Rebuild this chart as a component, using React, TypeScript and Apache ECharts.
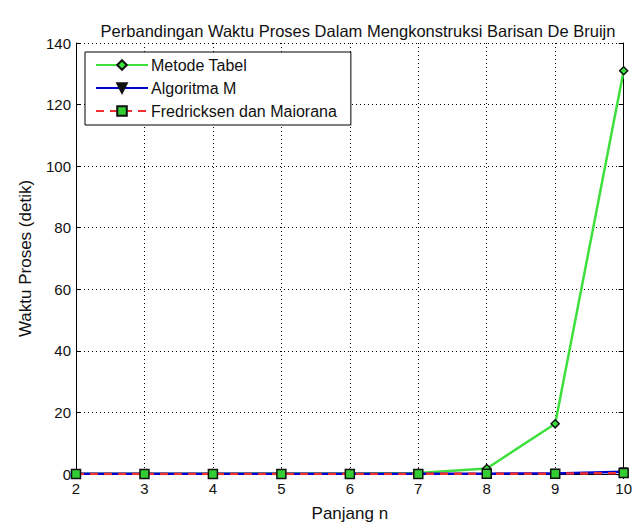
import React, { useEffect, useRef } from "react";
import * as echarts from "echarts";

const nValues = [2, 3, 4, 5, 6, 7, 8, 9, 10];
const metodeTabel = [0.1, 0.1, 0.1, 0.2, 0.2, 0.3, 1.8, 16.3, 131];
const algoritmaM = [0.05, 0.05, 0.05, 0.05, 0.05, 0.05, 0.1, 0.2, 0.7];
const fredricksen = [0.02, 0.02, 0.02, 0.03, 0.03, 0.04, 0.05, 0.1, 0.3];
const seriesNames = ["Metode Tabel", "Algoritma M", "Fredricksen dan Maiorana"];

const FONT = "Liberation Sans";

export default function App() {
  const ref = useRef<HTMLDivElement>(null);
  useEffect(() => {
    if (!ref.current) return;
    const chart = echarts.init(ref.current, null, { renderer: "svg" });
    const pairs = (arr: number[]) => nValues.map((n, i) => [n, arr[i]]);
    const dotted = { color: "#000", width: 1, type: [1, 3] as any };
    const hiddenAxisCommon = {
      axisLabel: { show: false },
      axisTick: { show: true, inside: true, length: 5, lineStyle: { color: "#000" } },
      axisLine: { show: true, lineStyle: { color: "#000", width: 1 } },
      splitLine: { show: false },
    };
    chart.setOption({
      animation: false,
      backgroundColor: "#fff",
      title: {
        text: "Perbandingan Waktu Proses Dalam Mengkonstruksi Barisan De Bruijn",
        left: 353,
        textAlign: "center",
        top: 17,
        textStyle: { fontFamily: FONT, fontSize: 16.5, fontWeight: "normal", color: "#111" },
      },
      grid: { left: 76, right: 6, top: 43, bottom: 50 },
      legend: {
        orient: "vertical",
        left: 85,
        top: 52,
        data: seriesNames,
        itemWidth: 52,
        itemHeight: 12,
        itemGap: 7,
        padding: [5, 14, 6, 10],
        backgroundColor: "#fff",
        borderColor: "#000",
        borderWidth: 1,
        borderRadius: 0,
        textStyle: { fontFamily: FONT, fontSize: 16, color: "#111", padding: [0, 0, 0, -2] },
      },
      xAxis: [
        {
          type: "value",
          min: 2,
          max: 10,
          interval: 1,
          name: "Panjang n",
          nameLocation: "middle",
          nameGap: 31,
          nameTextStyle: { fontFamily: FONT, fontSize: 17, color: "#111" },
          axisLabel: { fontFamily: FONT, fontSize: 15, color: "#111", margin: 7 },
          axisTick: { inside: true, length: 5, lineStyle: { color: "#000" } },
          axisLine: { show: true, onZero: false, lineStyle: { color: "#000", width: 1 } },
          splitLine: { show: true, lineStyle: dotted },
        },
        { type: "value", position: "top", min: 2, max: 10, interval: 1, ...hiddenAxisCommon },
      ],
      yAxis: [
        {
          type: "value",
          min: 0,
          max: 140,
          interval: 20,
          name: "Waktu Proses (detik)",
          nameLocation: "middle",
          nameGap: 42,
          nameTextStyle: { fontFamily: FONT, fontSize: 17, color: "#111" },
          axisLabel: { fontFamily: FONT, fontSize: 15, color: "#111", margin: 5 },
          axisTick: { inside: true, length: 5, lineStyle: { color: "#000" } },
          axisLine: { show: true, lineStyle: { color: "#000", width: 1 } },
          splitLine: { show: true, lineStyle: dotted },
        },
        { type: "value", position: "right", min: 0, max: 140, interval: 20, ...hiddenAxisCommon },
      ],
      series: [
        {
          name: seriesNames[0],
          type: "line",
          data: pairs(metodeTabel),
          symbol: "diamond",
          symbolSize: 8,
          lineStyle: { color: "#3ee03e", width: 2.5 },
          itemStyle: { color: "#3ee03e", borderColor: "#111", borderWidth: 1.5 },
          z: 2,
        },
        {
          name: seriesNames[1],
          type: "line",
          data: pairs(algoritmaM),
          symbol: "triangle",
          symbolRotate: 180,
          symbolSize: 8,
          lineStyle: { color: "#0000cc", width: 2.5 },
          itemStyle: { color: "#111", borderColor: "#111", borderWidth: 1 },
          z: 3,
        },
        {
          name: seriesNames[2],
          type: "line",
          data: pairs(fredricksen),
          symbol: "rect",
          symbolSize: 9,
          lineStyle: { color: "#f03030", width: 2.5, type: [8, 6] },
          itemStyle: { color: "#33cc33", borderColor: "#111", borderWidth: 1.5 },
          z: 4,
        },
      ],
    });
    return () => chart.dispose();
  }, []);
  return <div ref={ref} style={{ width: 635, height: 527, position: "absolute", left: 0, top: 0 }} />;
}
